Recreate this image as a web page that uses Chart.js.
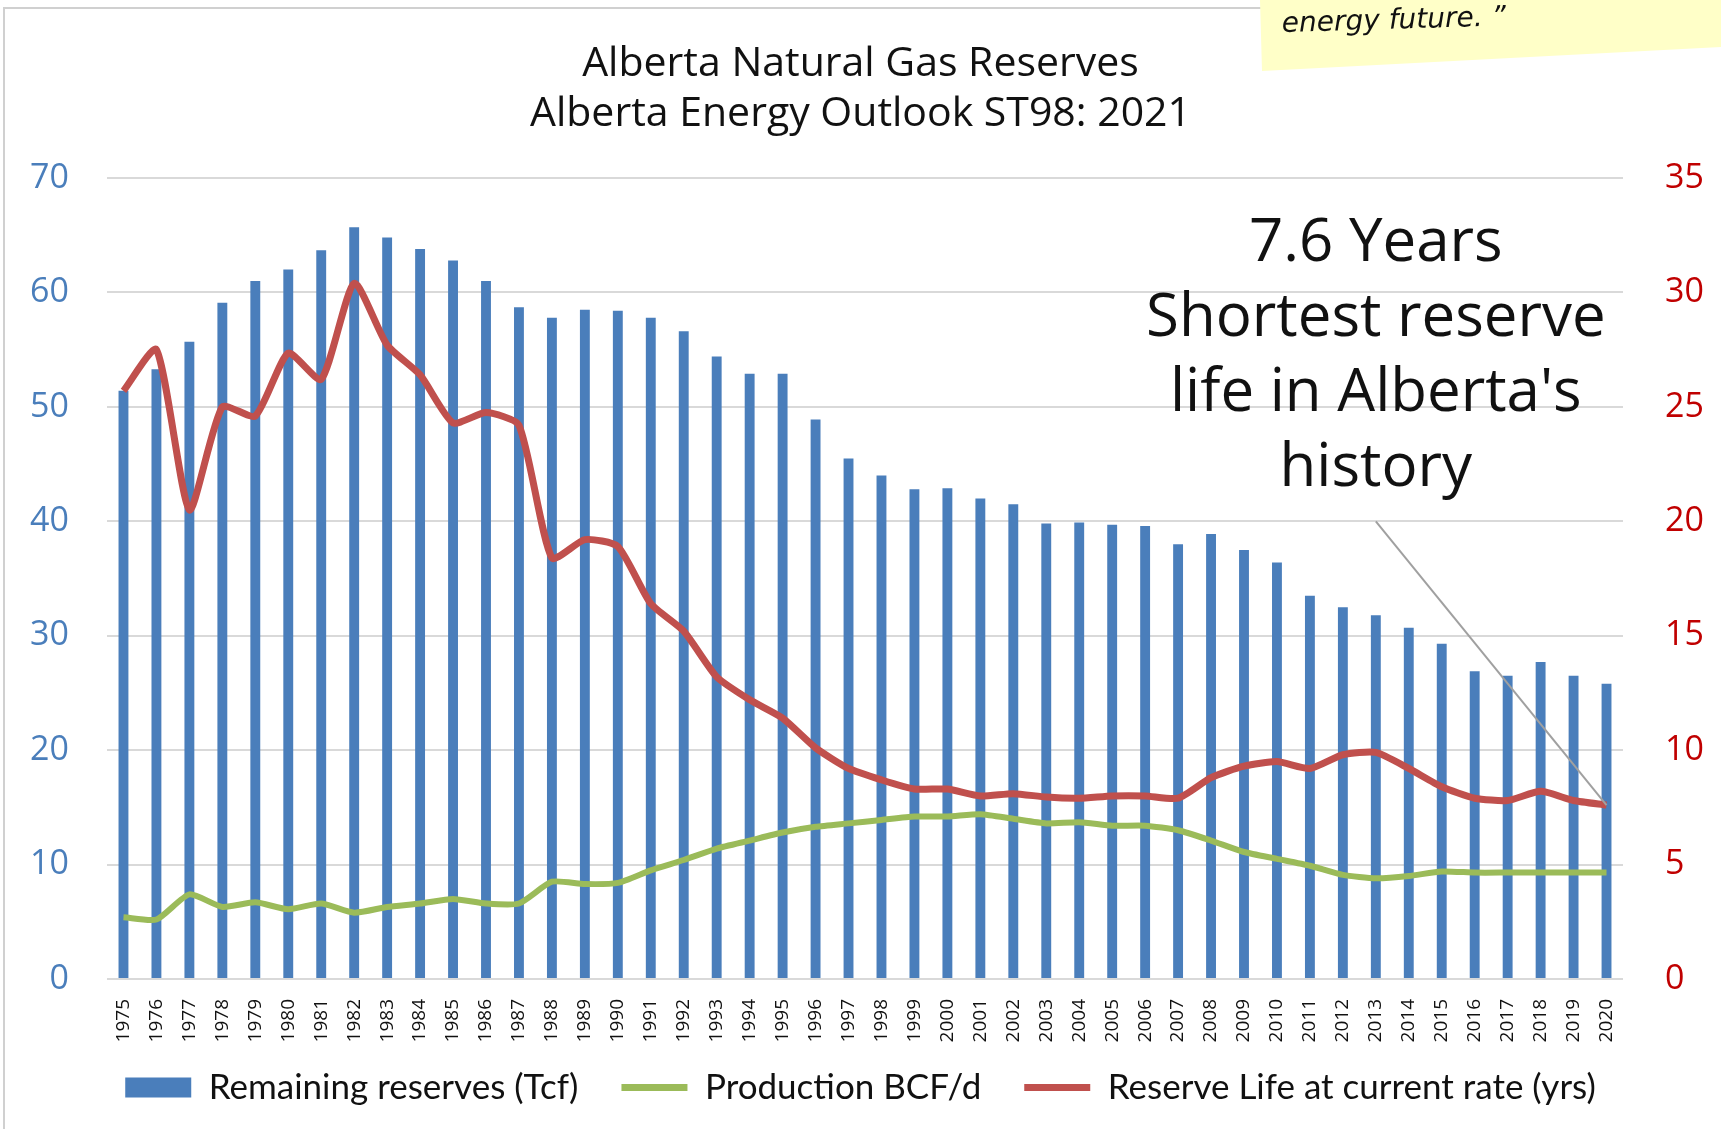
<!DOCTYPE html>
<html>
<head>
<meta charset="utf-8">
<script src="https://cdn.jsdelivr.net/npm/chart.js@4.4.1/dist/chart.umd.min.js"></script>
<style>
html,body{margin:0;padding:0;background:#fff;overflow:hidden}
#wrap{width:1721px;height:1129px;position:relative}
canvas{display:block}
</style>
</head>
<body>
<div id="wrap"><canvas id="c" width="1721" height="1129"></canvas></div>
<script>
// ---------- data ----------
const years = ['1975','1976','1977','1978','1979','1980','1981','1982','1983','1984','1985','1986','1987','1988','1989','1990','1991','1992','1993','1994','1995','1996','1997','1998','1999','2000','2001','2002','2003','2004','2005','2006','2007','2008','2009','2010','2011','2012','2013','2014','2015','2016','2017','2018','2019','2020'];
const reserves = [51.4,53.3,55.7,59.1,61.0,62.0,63.7,65.7,64.8,63.8,62.8,61.0,58.7,57.8,58.5,58.4,57.8,56.6,54.4,52.9,52.9,48.9,45.5,44.0,42.8,42.9,42.0,41.5,39.8,39.9,39.7,39.6,38.0,38.9,37.5,36.4,33.5,32.5,31.8,30.7,29.3,26.9,26.5,27.7,26.5,25.8];
const production = [5.4,5.2,7.4,6.3,6.7,6.1,6.6,5.8,6.3,6.6,7.0,6.6,6.6,8.5,8.3,8.4,9.5,10.4,11.4,12.1,12.8,13.3,13.6,13.9,14.2,14.2,14.4,14.0,13.6,13.7,13.4,13.4,13.0,12.1,11.1,10.5,9.9,9.1,8.8,9.0,9.4,9.3,9.3,9.3,9.3,9.3];
const reserveLife = [25.7,27.5,20.5,25.0,24.6,27.35,26.2,30.4,27.7,26.4,24.3,24.75,24.2,18.4,19.2,18.9,16.4,15.2,13.2,12.2,11.4,10.1,9.2,8.7,8.3,8.3,8.0,8.1,7.95,7.9,8.0,8.0,7.9,8.8,9.3,9.5,9.2,9.8,9.9,9.2,8.4,7.9,7.8,8.2,7.8,7.6];
const seriesNames = ['Remaining reserves (Tcf)','Production BCF/d','Reserve Life at current rate (yrs)'];
const titleLines = ['Alberta Natural Gas Reserves','Alberta Energy Outlook ST98: 2021'];
const leftAxis = {min:0, max:70, step:10};
const rightAxis = {min:0, max:35, step:5};
const annotationLines = ['7.6 Years','Shortest reserve',"life in Alberta's",'history'];
const annotationAt = {category:'2013', value:32.1};   // right-axis value of first line
const leaderFrom = {category:'2013', value:20.0};     // right-axis value
const noteText = 'energy future. \u201D';

// ---------- styles ----------
const BLUE = '#4A7EBB', GREEN = '#9BBB59', RED = '#C0504D';

const decor = {
  id:'decor',
  beforeDraw(chart){
    const ctx = chart.ctx;
    ctx.save();
    ctx.fillStyle = '#fff';
    ctx.fillRect(0,0,chart.width,chart.height);
    ctx.strokeStyle = '#D0D0D0';
    ctx.lineWidth = 2;
    ctx.beginPath();
    ctx.moveTo(4, chart.height+2);
    ctx.lineTo(4, 8);
    ctx.lineTo(chart.width, 8);
    ctx.stroke();
    ctx.restore();
  },
  afterDraw(chart){
    const ctx = chart.ctx;
    const x = chart.scales.x, yr = chart.scales.y1;
    // leader line
    const pt = chart.getDatasetMeta(2).data[reserveLife.length-1];
    ctx.save();
    ctx.strokeStyle = '#A0A0A0';
    ctx.lineWidth = 2;
    ctx.beginPath();
    ctx.moveTo(x.getPixelForValue(leaderFrom.category), yr.getPixelForValue(leaderFrom.value));
    ctx.lineTo(pt.x, pt.y);
    ctx.stroke();
    // annotation text
    ctx.fillStyle = '#111';
    ctx.font = '60px "Open Sans"';
    ctx.textAlign = 'center';
    ctx.textBaseline = 'middle';
    const ax = x.getPixelForValue(annotationAt.category);
    const ay = yr.getPixelForValue(annotationAt.value);
    annotationLines.forEach((t,i)=>ctx.fillText(t, ax, ay + i*75));
    // sticky note
    ctx.fillStyle = '#FFFFC8';
    ctx.beginPath();
    ctx.moveTo(1260,0); ctx.lineTo(chart.width,0); ctx.lineTo(chart.width,47); ctx.lineTo(1262,71);
    ctx.closePath(); ctx.fill();
    ctx.translate(1282, 32);
    ctx.rotate(-0.03);
    ctx.fillStyle = '#111';
    ctx.font = 'italic 28px "DejaVu Sans"';
    ctx.textAlign = 'left';
    ctx.textBaseline = 'alphabetic';
    ctx.fillText(noteText, 0, 0);
    ctx.restore();
  }
};

new Chart(document.getElementById('c'), {
  type:'bar',
  data:{
    labels: years,
    datasets:[
      {label:seriesNames[0], data:reserves, backgroundColor:BLUE, borderColor:BLUE, borderWidth:0,
       barPercentage:0.3, categoryPercentage:1.0, yAxisID:'y', order:3},
      {type:'line', label:seriesNames[1], data:production, borderColor:GREEN, backgroundColor:GREEN,
       borderWidth:6, pointRadius:0, tension:0.2, yAxisID:'y', order:2},
      {type:'line', label:seriesNames[2], data:reserveLife, borderColor:RED, backgroundColor:RED,
       borderWidth:7, pointRadius:0, tension:0.2, yAxisID:'y1', order:1}
    ]
  },
  options:{
    responsive:false,
    devicePixelRatio:1,
    animation:false,
    layout:{padding:{left:0,right:0,top:0,bottom:14}},
    plugins:{
      tooltip:{enabled:false},
      title:{
        display:true, text:titleLines, color:'#111',
        font:{family:'"Open Sans"', size:41, weight:'normal', lineHeight:1.22},
        padding:{top:39, bottom:39}
      },
      legend:{
        position:'bottom',
        labels:{
          font:{family:'Lato', size:35},
          color:'#111',
          usePointStyle:true,
          pointStyleWidth:66,
          boxHeight:20,
          padding:43,
          generateLabels(chart){
            return chart.data.datasets.map((ds,i)=>({
              text: ds.label,
              fillStyle: ds.borderColor,
              strokeStyle: ds.borderColor,
              lineWidth: ds.type === 'line' ? 7 : 0,
              pointStyle: ds.type === 'line' ? 'line' : 'rect',
              hidden:false,
              datasetIndex:i,
              fontColor:'#111'
            }));
          }
        }
      }
    },
    scales:{
      x:{
        grid:{display:false}, border:{display:false},
        ticks:{minRotation:90, maxRotation:90, autoSkip:false, color:'#111',
               font:{family:'"Open Sans"', size:19}, padding:12},
        afterFit(s){
          s.height = 48;
          // let the rotated year labels extend below the (compact) axis box
          s._computeLabelArea = function(){ return undefined; };
        }
      },
      y:{
        position:'left', min:leftAxis.min, max:leftAxis.max,
        ticks:{stepSize:leftAxis.step, color:BLUE, font:{family:'"Open Sans"', size:34}, padding:38},
        grid:{color:'#D9D9D9', lineWidth:2, drawTicks:false},
        border:{display:false},
        afterFit(s){ s.width = 107; }
      },
      y1:{
        position:'right', min:rightAxis.min, max:rightAxis.max,
        ticks:{stepSize:rightAxis.step, color:'#C00000', font:{family:'"Open Sans"', size:34}, padding:42},
        grid:{drawOnChartArea:false, drawTicks:false},
        border:{display:false},
        afterFit(s){ s.width = 98; }
      }
    }
  },
  plugins:[decor]
});
</script>
</body>
</html>
